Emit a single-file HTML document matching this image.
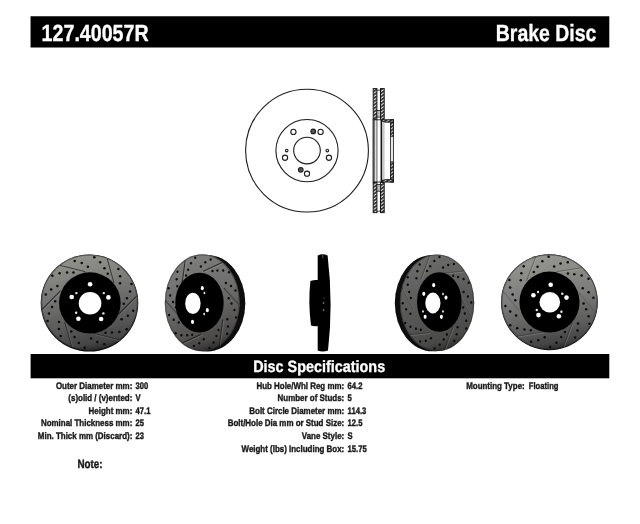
<!DOCTYPE html>
<html><head><title>127.40057R Brake Disc</title><meta charset="utf-8">
<style>
html,body{margin:0;padding:0;background:#fff;}
body{width:640px;height:524px;position:relative;overflow:hidden;font-family:"Liberation Sans",sans-serif;font-weight:bold;color:#1a1a1a;text-rendering:geometricPrecision;}
svg{position:absolute;left:0;top:0;}
</style></head><body>
<svg width="640" height="524" viewBox="0 0 640 524">
<defs>
<filter id="soft" x="-5%" y="-5%" width="110%" height="110%"><feGaussianBlur stdDeviation="0.65"/></filter>
<filter id="soft2" x="-5%" y="-5%" width="110%" height="110%"><feGaussianBlur stdDeviation="0.35"/></filter>
<pattern id="hatch" width="2.8" height="2.8" patternUnits="userSpaceOnUse" patternTransform="rotate(-35)"><rect width="2.8" height="2.8" fill="#eee"/><rect width="2.8" height="1.7" fill="#2a2a2a"/></pattern>
<linearGradient id="g1" x1="0.38" y1="0" x2="0.58" y2="1"><stop offset="0" stop-color="#94948e"/><stop offset="0.4" stop-color="#747472"/><stop offset="0.75" stop-color="#565656"/><stop offset="0.92" stop-color="#444"/><stop offset="1" stop-color="#282828"/></linearGradient>
<linearGradient id="g2" x1="0.35" y1="0" x2="0.6" y2="1"><stop offset="0" stop-color="#7e7e7c"/><stop offset="0.5" stop-color="#6a6a68"/><stop offset="0.88" stop-color="#4c4a48"/><stop offset="1" stop-color="#2a2a2a"/></linearGradient>
<linearGradient id="g4" x1="0.35" y1="0" x2="0.6" y2="1"><stop offset="0" stop-color="#6c6c6a"/><stop offset="0.5" stop-color="#5a5a58"/><stop offset="0.88" stop-color="#4a4a48"/><stop offset="1" stop-color="#2c2c2c"/></linearGradient>
<linearGradient id="g5" x1="0.4" y1="0" x2="0.56" y2="1"><stop offset="0" stop-color="#969692"/><stop offset="0.45" stop-color="#7c7c7a"/><stop offset="0.8" stop-color="#585858"/><stop offset="0.93" stop-color="#444"/><stop offset="1" stop-color="#2a2a2a"/></linearGradient>
</defs>
<rect x="30.55" y="16.25" width="578.75" height="31.25" fill="#000"/>
<rect x="30.6" y="354" width="578.7" height="24.3" fill="#000"/>
<g filter="url(#soft2)">
<g fill="none" stroke="#1c1c1c" stroke-width="1.1">
<circle cx="307.0" cy="150.6" r="61.4"/>
<circle cx="307.0" cy="150.6" r="31.1"/>
<circle cx="307.0" cy="150.6" r="13.3"/>
<circle cx="307" cy="173.7" r="2.6"/>
<circle cx="285.03" cy="157.74" r="2.6"/>
<circle cx="293.42" cy="131.91" r="2.6"/>
<circle cx="320.58" cy="131.91" r="2.6"/>
<circle cx="328.97" cy="157.74" r="2.6"/>
<circle cx="327.3" cy="150.6" r="1.3"/>
<circle cx="286.7" cy="150.6" r="1.3"/>
</g>
<circle cx="313.24" cy="131.39" r="2.3" fill="#555" stroke="#222" stroke-width="1.2"/>
<circle cx="300.76" cy="169.81" r="2.3" fill="#555" stroke="#222" stroke-width="1.2"/>
<g fill="none" stroke="#161616" stroke-width="1">
<rect x="373.2" y="88.6" width="3.7" height="30.6" fill="url(#hatch)"/>
<rect x="380.5" y="88.6" width="3.7" height="30.6" fill="url(#hatch)"/>
<rect x="373.2" y="182.5" width="3.7" height="30.1" fill="url(#hatch)"/>
<rect x="380.5" y="182.5" width="3.7" height="30.1" fill="url(#hatch)"/>
<rect x="376.9" y="110.5" width="3.6" height="6.6" fill="#bbb" stroke-width="0.8"/>
<rect x="376.9" y="184.6" width="3.6" height="6.6" fill="#bbb" stroke-width="0.8"/>
<path d="M376.9 90.2h3.6M376.9 211.2h3.6" stroke-width="0.8"/>
<rect x="390.6" y="119.8" width="2.8" height="16.4" fill="url(#hatch)"/>
<rect x="390.6" y="162" width="2.8" height="20" fill="url(#hatch)"/>
<rect x="382" y="119.8" width="11.4" height="2.3" fill="url(#hatch)"/>
<rect x="382" y="179.7" width="11.4" height="2.3" fill="url(#hatch)"/>
<path d="M390.6 136.2V162M393.4 136.2V162" stroke-width="0.9"/>
<rect x="382" y="122.1" width="2.6" height="57.6" fill="#c8c8c8" stroke="none"/>
<path d="M373.2 119.2V182.5" stroke-width="1.2"/>
<path d="M374.7 119.8V182M376.9 119.8V182" stroke-width="0.7"/>
<path d="M381.3 119.8V182" stroke-width="1.5"/>
<path d="M373.2 119.8H381M373.2 182H381" stroke-width="0.9"/>
</g>
</g>
<g filter="url(#soft)">
<ellipse cx="89.5" cy="303.1" rx="48.8" ry="48.5" fill="#0b0b0b"/>
<ellipse cx="89.5" cy="302.6" rx="48.3" ry="47.9" fill="url(#g1)"/>
<ellipse cx="89.5" cy="302.6" rx="47.8" ry="47.4" fill="none" stroke="#222" stroke-opacity="0.45" stroke-width="1.2"/>
<path d="M118.79 339.78L93.87 333.43 M71.68 346.35L64.76 321.77 M42.39 309.17L60.39 290.94 M60.21 265.42L85.13 271.77 M107.32 258.85L114.24 283.43 M136.61 296.03L118.61 314.26" fill="none" stroke="#1c1c1c" stroke-width="1.1" opacity="0.8"/>
<path d="M118.79 339.78L93.87 333.43 M71.68 346.35L64.76 321.77 M42.39 309.17L60.39 290.94 M60.21 265.42L85.13 271.77 M107.32 258.85L114.24 283.43 M136.61 296.03L118.61 314.26" fill="none" stroke="#bbb" stroke-width="0.7" opacity="0.35" transform="translate(0.9,0.9)"/>
<g fill="#0a0a0a"><ellipse cx="126.62" cy="329.35" rx="1.25" ry="1.25"/><ellipse cx="119.37" cy="331.91" rx="1.25" ry="1.25"/><ellipse cx="111.96" cy="332.59" rx="1.25" ry="1.25"/><ellipse cx="105.55" cy="332.66" rx="1.25" ry="1.25"/><ellipse cx="133.19" cy="310.63" rx="1.25" ry="1.25"/><ellipse cx="127.86" cy="315.7" rx="1.25" ry="1.25"/><ellipse cx="121.63" cy="319.19" rx="1.25" ry="1.25"/><ellipse cx="84.7" cy="347.86" rx="1.25" ry="1.25"/><ellipse cx="78.84" cy="342.91" rx="1.25" ry="1.25"/><ellipse cx="74.54" cy="336.89" rx="1.25" ry="1.25"/><ellipse cx="71.28" cy="331.41" rx="1.25" ry="1.25"/><ellipse cx="104.33" cy="344.14" rx="1.25" ry="1.25"/><ellipse cx="97.24" cy="342.1" rx="1.25" ry="1.25"/><ellipse cx="91.08" cy="338.49" rx="1.25" ry="1.25"/><ellipse cx="47.58" cy="321.11" rx="1.25" ry="1.25"/><ellipse cx="48.97" cy="313.6" rx="1.25" ry="1.25"/><ellipse cx="52.08" cy="306.89" rx="1.25" ry="1.25"/><ellipse cx="55.23" cy="301.35" rx="1.25" ry="1.25"/><ellipse cx="60.64" cy="336.11" rx="1.25" ry="1.25"/><ellipse cx="58.88" cy="329" rx="1.25" ry="1.25"/><ellipse cx="58.95" cy="321.9" rx="1.25" ry="1.25"/><ellipse cx="52.38" cy="275.85" rx="1.25" ry="1.25"/><ellipse cx="59.63" cy="273.29" rx="1.25" ry="1.25"/><ellipse cx="67.04" cy="272.61" rx="1.25" ry="1.25"/><ellipse cx="73.45" cy="272.54" rx="1.25" ry="1.25"/><ellipse cx="45.81" cy="294.57" rx="1.25" ry="1.25"/><ellipse cx="51.14" cy="289.5" rx="1.25" ry="1.25"/><ellipse cx="57.37" cy="286.01" rx="1.25" ry="1.25"/><ellipse cx="94.3" cy="257.34" rx="1.25" ry="1.25"/><ellipse cx="100.16" cy="262.29" rx="1.25" ry="1.25"/><ellipse cx="104.46" cy="268.31" rx="1.25" ry="1.25"/><ellipse cx="107.72" cy="273.79" rx="1.25" ry="1.25"/><ellipse cx="74.67" cy="261.06" rx="1.25" ry="1.25"/><ellipse cx="81.76" cy="263.1" rx="1.25" ry="1.25"/><ellipse cx="87.92" cy="266.71" rx="1.25" ry="1.25"/><ellipse cx="131.42" cy="284.09" rx="1.25" ry="1.25"/><ellipse cx="130.03" cy="291.6" rx="1.25" ry="1.25"/><ellipse cx="126.92" cy="298.31" rx="1.25" ry="1.25"/><ellipse cx="123.77" cy="303.85" rx="1.25" ry="1.25"/><ellipse cx="118.36" cy="269.09" rx="1.25" ry="1.25"/><ellipse cx="120.12" cy="276.2" rx="1.25" ry="1.25"/><ellipse cx="120.05" cy="283.3" rx="1.25" ry="1.25"/></g>
<ellipse cx="89.85" cy="302.9" rx="30.85" ry="30.6" fill="#040404"/>
<ellipse cx="90.05" cy="303.3" rx="11.3" ry="11.3" fill="#fff"/>
<ellipse cx="90.1" cy="284.3" rx="2.3" ry="2.3" fill="#fff"/>
<ellipse cx="108.4" cy="297.4" rx="2.3" ry="2.3" fill="#fff"/>
<ellipse cx="101.1" cy="319" rx="2.3" ry="2.3" fill="#fff"/>
<ellipse cx="78.4" cy="318.8" rx="2.3" ry="2.3" fill="#fff"/>
<ellipse cx="71.7" cy="297" rx="2.3" ry="2.3" fill="#fff"/>
<ellipse cx="76.4" cy="293.1" rx="1.2" ry="1.2" fill="#e8e8e8"/>
<ellipse cx="103.8" cy="293.1" rx="1.2" ry="1.2" fill="#e8e8e8"/>
<ellipse cx="76.1" cy="312.75" rx="1.2" ry="1.2" fill="#e8e8e8"/>
<ellipse cx="103.4" cy="313.4" rx="1.2" ry="1.2" fill="#e8e8e8"/>
</g>
<g filter="url(#soft)">
<ellipse cx="207.3" cy="303.2" rx="38" ry="48.3" fill="#0b0b0b"/>
<ellipse cx="202.3" cy="302.8" rx="37.5" ry="48.5" fill="url(#g2)"/>
<ellipse cx="202.3" cy="302.8" rx="37" ry="48" fill="none" stroke="#222" stroke-opacity="0.45" stroke-width="1.2"/>
<path d="M182.45 343.09L201.24 334.29 M219.36 345.17L222.86 319.74 M239.2 304.88L223.92 288.24 M222.15 262.51L203.36 271.31 M185.24 260.43L181.74 285.86 M165.4 300.72L180.68 317.36" fill="none" stroke="#1c1c1c" stroke-width="1.1" opacity="0.8"/>
<path d="M182.45 343.09L201.24 334.29 M219.36 345.17L222.86 319.74 M239.2 304.88L223.92 288.24 M222.15 262.51L203.36 271.31 M185.24 260.43L181.74 285.86 M165.4 300.72L180.68 317.36" fill="none" stroke="#bbb" stroke-width="0.7" opacity="0.35" transform="translate(0.9,0.9)"/>
<g fill="#0a0a0a"><ellipse cx="175.62" cy="333.33" rx="1.12" ry="1.25"/><ellipse cx="181.42" cy="335.22" rx="1.12" ry="1.25"/><ellipse cx="187.19" cy="335.19" rx="1.12" ry="1.25"/><ellipse cx="192.15" cy="334.64" rx="1.12" ry="1.25"/><ellipse cx="169.14" cy="315.1" rx="1.12" ry="1.25"/><ellipse cx="173.64" cy="319.69" rx="1.12" ry="1.25"/><ellipse cx="178.71" cy="322.61" rx="1.12" ry="1.25"/><ellipse cx="209.4" cy="347.95" rx="1.12" ry="1.25"/><ellipse cx="213.57" cy="342.4" rx="1.12" ry="1.25"/><ellipse cx="216.44" cy="335.92" rx="1.12" ry="1.25"/><ellipse cx="218.55" cy="330.08" rx="1.12" ry="1.25"/><ellipse cx="193.95" cy="346.09" rx="1.12" ry="1.25"/><ellipse cx="199.28" cy="343.35" rx="1.12" ry="1.25"/><ellipse cx="203.77" cy="339.13" rx="1.12" ry="1.25"/><ellipse cx="236.08" cy="317.42" rx="1.12" ry="1.25"/><ellipse cx="234.45" cy="309.98" rx="1.12" ry="1.25"/><ellipse cx="231.54" cy="303.53" rx="1.12" ry="1.25"/><ellipse cx="228.69" cy="298.25" rx="1.12" ry="1.25"/><ellipse cx="227.12" cy="333.8" rx="1.12" ry="1.25"/><ellipse cx="227.94" cy="326.46" rx="1.12" ry="1.25"/><ellipse cx="227.36" cy="319.31" rx="1.12" ry="1.25"/><ellipse cx="228.98" cy="272.27" rx="1.12" ry="1.25"/><ellipse cx="223.18" cy="270.38" rx="1.12" ry="1.25"/><ellipse cx="217.41" cy="270.41" rx="1.12" ry="1.25"/><ellipse cx="212.45" cy="270.96" rx="1.12" ry="1.25"/><ellipse cx="235.46" cy="290.5" rx="1.12" ry="1.25"/><ellipse cx="230.96" cy="285.91" rx="1.12" ry="1.25"/><ellipse cx="225.89" cy="282.99" rx="1.12" ry="1.25"/><ellipse cx="195.2" cy="257.65" rx="1.12" ry="1.25"/><ellipse cx="191.03" cy="263.2" rx="1.12" ry="1.25"/><ellipse cx="188.16" cy="269.68" rx="1.12" ry="1.25"/><ellipse cx="186.05" cy="275.52" rx="1.12" ry="1.25"/><ellipse cx="210.65" cy="259.51" rx="1.12" ry="1.25"/><ellipse cx="205.32" cy="262.25" rx="1.12" ry="1.25"/><ellipse cx="200.83" cy="266.47" rx="1.12" ry="1.25"/><ellipse cx="168.52" cy="288.18" rx="1.12" ry="1.25"/><ellipse cx="170.15" cy="295.62" rx="1.12" ry="1.25"/><ellipse cx="173.06" cy="302.07" rx="1.12" ry="1.25"/><ellipse cx="175.91" cy="307.35" rx="1.12" ry="1.25"/><ellipse cx="177.48" cy="271.8" rx="1.12" ry="1.25"/><ellipse cx="176.66" cy="279.14" rx="1.12" ry="1.25"/><ellipse cx="177.24" cy="286.29" rx="1.12" ry="1.25"/></g>
<ellipse cx="199.5" cy="302.7" rx="24.2" ry="29.9" fill="#040404"/>
<ellipse cx="192.9" cy="303.4" rx="7.7" ry="10.7" fill="#fff"/>
<ellipse cx="202.3" cy="288.2" rx="1.5" ry="2.1" fill="#fff"/>
<ellipse cx="207.3" cy="310.2" rx="1.5" ry="2.1" fill="#fff"/>
<ellipse cx="192.5" cy="321.9" rx="1.5" ry="2.1" fill="#fff"/>
<ellipse cx="204.4" cy="293" rx="0.9" ry="1.2" fill="#e8e8e8"/>
<ellipse cx="204.2" cy="314" rx="0.9" ry="1.2" fill="#e8e8e8"/>
</g>
<g filter="url(#soft)"><path d="M317.7 255.5 Q322.5 253 327.6 255.5 Q333.4 303 328 350.4 Q322.5 352.6 317.7 350.4 Z" fill="#060606"/><path d="M310.4 281 Q314 279.6 318 280 V326 Q314 326.6 311 325.4 Q308 303 310.4 281Z" fill="#060606"/><path d="M322.3 255 L323 258.5" stroke="#666" stroke-width="0.8"/><circle cx="323.5" cy="303" r="0.8" fill="#999"/><circle cx="323.7" cy="310" r="0.8" fill="#999"/><circle cx="324" cy="298" r="0.6" fill="#666"/></g>
<g filter="url(#soft)">
<ellipse cx="432.4" cy="303.1" rx="37.6" ry="48.2" fill="#0b0b0b"/>
<ellipse cx="437" cy="302.8" rx="37.2" ry="48.3" fill="url(#g4)"/>
<ellipse cx="437" cy="302.8" rx="36.7" ry="47.8" fill="none" stroke="#222" stroke-opacity="0.45" stroke-width="1.2"/>
<path d="M409.77 334.63L429.53 332.66 M444.62 349.34L453.18 326.13 M471.85 317.5L460.65 296.27 M464.23 270.97L444.47 272.94 M429.38 256.26L420.82 279.47 M402.15 288.1L413.35 309.33" fill="none" stroke="#1c1c1c" stroke-width="1.1" opacity="0.35"/>
<path d="M409.77 334.63L429.53 332.66 M444.62 349.34L453.18 326.13 M471.85 317.5L460.65 296.27 M464.23 270.97L444.47 272.94 M429.38 256.26L420.82 279.47 M402.15 288.1L413.35 309.33" fill="none" stroke="#bbb" stroke-width="0.7" opacity="0.35" transform="translate(0.9,0.9)"/>
<g fill="#0a0a0a"><ellipse cx="405.24" cy="322.91" rx="1.11" ry="1.25"/><ellipse cx="410.39" cy="326.72" rx="1.11" ry="1.25"/><ellipse cx="415.92" cy="328.69" rx="1.11" ry="1.25"/><ellipse cx="420.78" cy="329.86" rx="1.11" ry="1.25"/><ellipse cx="402.78" cy="303.19" rx="1.11" ry="1.25"/><ellipse cx="406.14" cy="309.15" rx="1.11" ry="1.25"/><ellipse cx="410.39" cy="313.69" rx="1.11" ry="1.25"/><ellipse cx="434.53" cy="348.57" rx="1.11" ry="1.25"/><ellipse cx="439.65" cy="344.68" rx="1.11" ry="1.25"/><ellipse cx="443.72" cy="339.45" rx="1.11" ry="1.25"/><ellipse cx="446.94" cy="334.57" rx="1.11" ry="1.25"/><ellipse cx="420.15" cy="341.48" rx="1.11" ry="1.25"/><ellipse cx="425.8" cy="340.68" rx="1.11" ry="1.25"/><ellipse cx="430.96" cy="338.17" rx="1.11" ry="1.25"/><ellipse cx="466.3" cy="328.46" rx="1.11" ry="1.25"/><ellipse cx="466.26" cy="320.76" rx="1.11" ry="1.25"/><ellipse cx="464.81" cy="313.56" rx="1.11" ry="1.25"/><ellipse cx="463.16" cy="307.51" rx="1.11" ry="1.25"/><ellipse cx="454.37" cy="341.09" rx="1.11" ry="1.25"/><ellipse cx="456.67" cy="334.33" rx="1.11" ry="1.25"/><ellipse cx="457.57" cy="327.27" rx="1.11" ry="1.25"/><ellipse cx="468.76" cy="282.69" rx="1.11" ry="1.25"/><ellipse cx="463.61" cy="278.88" rx="1.11" ry="1.25"/><ellipse cx="458.08" cy="276.91" rx="1.11" ry="1.25"/><ellipse cx="453.22" cy="275.74" rx="1.11" ry="1.25"/><ellipse cx="471.22" cy="302.41" rx="1.11" ry="1.25"/><ellipse cx="467.86" cy="296.45" rx="1.11" ry="1.25"/><ellipse cx="463.61" cy="291.91" rx="1.11" ry="1.25"/><ellipse cx="439.47" cy="257.03" rx="1.11" ry="1.25"/><ellipse cx="434.35" cy="260.92" rx="1.11" ry="1.25"/><ellipse cx="430.28" cy="266.15" rx="1.11" ry="1.25"/><ellipse cx="427.06" cy="271.03" rx="1.11" ry="1.25"/><ellipse cx="453.85" cy="264.12" rx="1.11" ry="1.25"/><ellipse cx="448.2" cy="264.92" rx="1.11" ry="1.25"/><ellipse cx="443.04" cy="267.43" rx="1.11" ry="1.25"/><ellipse cx="407.7" cy="277.14" rx="1.11" ry="1.25"/><ellipse cx="407.74" cy="284.84" rx="1.11" ry="1.25"/><ellipse cx="409.19" cy="292.04" rx="1.11" ry="1.25"/><ellipse cx="410.84" cy="298.09" rx="1.11" ry="1.25"/><ellipse cx="419.63" cy="264.51" rx="1.11" ry="1.25"/><ellipse cx="417.33" cy="271.27" rx="1.11" ry="1.25"/><ellipse cx="416.43" cy="278.33" rx="1.11" ry="1.25"/></g>
<ellipse cx="439.3" cy="302" rx="22.3" ry="29.8" fill="#040404"/>
<ellipse cx="432.9" cy="303" rx="7.6" ry="10.4" fill="#fff"/>
<ellipse cx="433.7" cy="285.2" rx="1.5" ry="2.1" fill="#fff"/>
<ellipse cx="446" cy="297.6" rx="1.5" ry="2.1" fill="#fff"/>
<ellipse cx="441.4" cy="316.8" rx="1.5" ry="2.1" fill="#fff"/>
<ellipse cx="425.1" cy="316.8" rx="1.5" ry="2.1" fill="#fff"/>
<ellipse cx="423.8" cy="293.8" rx="1.5" ry="2.1" fill="#fff"/>
<ellipse cx="423" cy="311.4" rx="0.9" ry="1.2" fill="#e8e8e8"/>
<ellipse cx="443" cy="294" rx="0.9" ry="1.2" fill="#e8e8e8"/>
<ellipse cx="443" cy="311.4" rx="0.9" ry="1.2" fill="#e8e8e8"/>
</g>
<g filter="url(#soft)">
<ellipse cx="549.4" cy="302.2" rx="48.4" ry="47.95" fill="#0b0b0b"/>
<ellipse cx="549.4" cy="301.9" rx="48.1" ry="47.5" fill="url(#g5)"/>
<ellipse cx="549.4" cy="301.9" rx="47.6" ry="47" fill="none" stroke="#222" stroke-opacity="0.45" stroke-width="1.2"/>
<path d="M517.09 336.12L542.37 331.98 M563.25 346.64L572.27 322.96 M595.56 312.42L579.3 292.87 M581.71 267.68L556.43 271.82 M535.55 257.16L526.53 280.84 M503.24 291.38L519.5 310.93" fill="none" stroke="#1c1c1c" stroke-width="1.1" opacity="0.35"/>
<path d="M517.09 336.12L542.37 331.98 M563.25 346.64L572.27 322.96 M595.56 312.42L579.3 292.87 M581.71 267.68L556.43 271.82 M535.55 257.16L526.53 280.84 M503.24 291.38L519.5 310.93" fill="none" stroke="#bbb" stroke-width="0.7" opacity="0.35" transform="translate(0.9,0.9)"/>
<g fill="#0a0a0a"><ellipse cx="510.23" cy="325.14" rx="1.25" ry="1.25"/><ellipse cx="517.2" cy="328.3" rx="1.25" ry="1.25"/><ellipse cx="524.49" cy="329.61" rx="1.25" ry="1.25"/><ellipse cx="530.85" cy="330.22" rx="1.25" ry="1.25"/><ellipse cx="505.35" cy="306.09" rx="1.25" ry="1.25"/><ellipse cx="510.2" cy="311.55" rx="1.25" ry="1.25"/><ellipse cx="516.07" cy="315.53" rx="1.25" ry="1.25"/><ellipse cx="550.2" cy="347.02" rx="1.25" ry="1.25"/><ellipse cx="556.45" cy="342.63" rx="1.25" ry="1.25"/><ellipse cx="561.24" cy="337.06" rx="1.25" ry="1.25"/><ellipse cx="564.96" cy="331.92" rx="1.25" ry="1.25"/><ellipse cx="531.05" cy="341.67" rx="1.25" ry="1.25"/><ellipse cx="538.26" cy="340.25" rx="1.25" ry="1.25"/><ellipse cx="544.69" cy="337.22" rx="1.25" ry="1.25"/><ellipse cx="589.37" cy="323.78" rx="1.25" ry="1.25"/><ellipse cx="588.65" cy="316.24" rx="1.25" ry="1.25"/><ellipse cx="586.15" cy="309.35" rx="1.25" ry="1.25"/><ellipse cx="583.51" cy="303.61" rx="1.25" ry="1.25"/><ellipse cx="575.1" cy="337.48" rx="1.25" ry="1.25"/><ellipse cx="577.47" cy="330.6" rx="1.25" ry="1.25"/><ellipse cx="578.02" cy="323.59" rx="1.25" ry="1.25"/><ellipse cx="588.57" cy="278.66" rx="1.25" ry="1.25"/><ellipse cx="581.6" cy="275.5" rx="1.25" ry="1.25"/><ellipse cx="574.31" cy="274.19" rx="1.25" ry="1.25"/><ellipse cx="567.95" cy="273.58" rx="1.25" ry="1.25"/><ellipse cx="593.45" cy="297.71" rx="1.25" ry="1.25"/><ellipse cx="588.6" cy="292.25" rx="1.25" ry="1.25"/><ellipse cx="582.73" cy="288.27" rx="1.25" ry="1.25"/><ellipse cx="548.6" cy="256.78" rx="1.25" ry="1.25"/><ellipse cx="542.35" cy="261.17" rx="1.25" ry="1.25"/><ellipse cx="537.56" cy="266.74" rx="1.25" ry="1.25"/><ellipse cx="533.84" cy="271.88" rx="1.25" ry="1.25"/><ellipse cx="567.75" cy="262.13" rx="1.25" ry="1.25"/><ellipse cx="560.54" cy="263.55" rx="1.25" ry="1.25"/><ellipse cx="554.11" cy="266.58" rx="1.25" ry="1.25"/><ellipse cx="509.43" cy="280.02" rx="1.25" ry="1.25"/><ellipse cx="510.15" cy="287.56" rx="1.25" ry="1.25"/><ellipse cx="512.65" cy="294.45" rx="1.25" ry="1.25"/><ellipse cx="515.29" cy="300.19" rx="1.25" ry="1.25"/><ellipse cx="523.7" cy="266.32" rx="1.25" ry="1.25"/><ellipse cx="521.33" cy="273.2" rx="1.25" ry="1.25"/><ellipse cx="520.78" cy="280.21" rx="1.25" ry="1.25"/></g>
<ellipse cx="549.5" cy="302.1" rx="30.1" ry="30.5" fill="#040404"/>
<ellipse cx="549.8" cy="302.2" rx="10.3" ry="10.3" fill="#fff"/>
<ellipse cx="550.7" cy="284.7" rx="2.3" ry="2.3" fill="#fff"/>
<ellipse cx="566.5" cy="297.6" rx="2.3" ry="2.3" fill="#fff"/>
<ellipse cx="558.9" cy="316.3" rx="2.3" ry="2.3" fill="#fff"/>
<ellipse cx="538.5" cy="315.1" rx="2.3" ry="2.3" fill="#fff"/>
<ellipse cx="533.4" cy="295.2" rx="2.3" ry="2.3" fill="#fff"/>
<ellipse cx="538" cy="292" rx="1.2" ry="1.2" fill="#e8e8e8"/>
<ellipse cx="562.3" cy="293.8" rx="1.2" ry="1.2" fill="#e8e8e8"/>
<ellipse cx="561.4" cy="311.8" rx="1.2" ry="1.2" fill="#e8e8e8"/>
<ellipse cx="536.8" cy="310" rx="1.2" ry="1.2" fill="#e8e8e8"/>
</g>
</svg>
<svg width="640" height="524" viewBox="0 0 640 524" font-family="Liberation Sans, sans-serif" font-weight="bold" text-rendering="geometricPrecision">
<defs><filter id="tb" x="-2%" y="-20%" width="104%" height="140%"><feGaussianBlur stdDeviation="0.3"/></filter></defs>
<g fill="#fff" stroke="#fff" stroke-width="0.35" filter="url(#tb)">
<text transform="translate(41.6,41) scale(0.84,1)" font-size="23.4">127.40057R</text>
<text transform="translate(495.8,41) scale(0.832,1)" font-size="23.4">Brake Disc</text>
<text transform="translate(253.2,372) scale(0.878,1)" font-size="16.4">Disc Specifications</text>
</g>
<g fill="#1a1a1a" stroke="#1a1a1a" stroke-width="0.4" font-size="9.5" filter="url(#tb)">
<text transform="translate(132.3,389) scale(0.836,1)" text-anchor="end">Outer Diameter mm:</text>
<text transform="translate(135.5,389) scale(0.805,1)">300</text>
<text transform="translate(132.3,401) scale(0.836,1)" text-anchor="end">(s)olid / (v)ented:</text>
<text transform="translate(135.5,401) scale(0.805,1)">V</text>
<text transform="translate(132.3,414) scale(0.836,1)" text-anchor="end">Height mm:</text>
<text transform="translate(135.5,414) scale(0.805,1)">47.1</text>
<text transform="translate(132.3,426) scale(0.836,1)" text-anchor="end">Nominal Thickness mm:</text>
<text transform="translate(135.5,426) scale(0.805,1)">25</text>
<text transform="translate(132.3,439) scale(0.836,1)" text-anchor="end">Min. Thick mm (Discard):</text>
<text transform="translate(135.5,439) scale(0.805,1)">23</text>
<text transform="translate(344.2,389) scale(0.836,1)" text-anchor="end">Hub Hole/Whl Reg mm:</text>
<text transform="translate(347.6,389) scale(0.805,1)">64.2</text>
<text transform="translate(344.2,401) scale(0.836,1)" text-anchor="end">Number of Studs:</text>
<text transform="translate(347.6,401) scale(0.805,1)">5</text>
<text transform="translate(344.2,414) scale(0.836,1)" text-anchor="end">Bolt Circle Diameter mm:</text>
<text transform="translate(347.6,414) scale(0.805,1)">114.3</text>
<text transform="translate(344.2,426) scale(0.836,1)" text-anchor="end">Bolt/Hole Dia mm or Stud Size:</text>
<text transform="translate(347.6,426) scale(0.805,1)">12.5</text>
<text transform="translate(344.2,439) scale(0.836,1)" text-anchor="end">Vane Style:</text>
<text transform="translate(347.6,439) scale(0.805,1)">S</text>
<text transform="translate(344.2,452) scale(0.836,1)" text-anchor="end">Weight (lbs) Including Box:</text>
<text transform="translate(347.6,452) scale(0.805,1)">15.75</text>
<text transform="translate(524.7,389) scale(0.836,1)" text-anchor="end">Mounting Type:</text>
<text transform="translate(528.8,389) scale(0.805,1)">Floating</text>
</g>
<text transform="translate(77.4,468) scale(0.82,1)" font-size="12" fill="#1a1a1a" stroke="#1a1a1a" stroke-width="0.4" filter="url(#tb)">Note:</text>
</svg>
</body></html>
